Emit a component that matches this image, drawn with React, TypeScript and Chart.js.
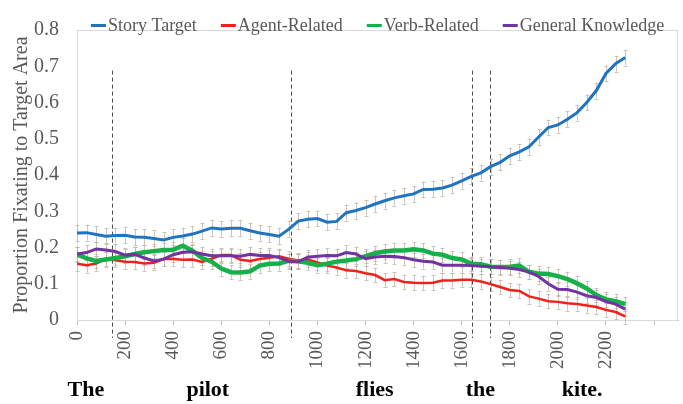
import React, { useEffect, useRef } from 'react';
import { Chart, registerables } from 'chart.js';

Chart.register(...registerables);

// ---- data ----
const TIME_MS = [
  0, 40, 80, 120, 160, 200, 240, 280, 320, 360,
  400, 440, 480, 520, 560, 600, 640, 680, 720, 760,
  800, 840, 880, 920, 960, 1000, 1040, 1080, 1120, 1160,
  1200, 1240, 1280, 1320, 1360, 1400, 1440, 1480, 1520, 1560,
  1600, 1640, 1680, 1720, 1760, 1800, 1840, 1880, 1920, 1960,
  2000, 2040, 2080, 2120, 2160, 2200, 2240, 2280,
];

const STORY_TARGET = [
  0.240, 0.241, 0.236, 0.231, 0.233, 0.234, 0.229, 0.228, 0.225, 0.221,
  0.228, 0.232, 0.237, 0.245, 0.254, 0.251, 0.253, 0.253, 0.246, 0.240,
  0.236, 0.231, 0.250, 0.273, 0.278, 0.280, 0.270, 0.272, 0.296, 0.302,
  0.310, 0.320, 0.329, 0.337, 0.343, 0.348, 0.360, 0.361, 0.364, 0.372,
  0.384, 0.396, 0.406, 0.423, 0.435, 0.453, 0.464, 0.478, 0.505, 0.531,
  0.538, 0.554, 0.572, 0.600, 0.633, 0.680, 0.707, 0.724,
];

const AGENT_RELATED = [
  0.155, 0.151, 0.156, 0.169, 0.165, 0.161, 0.160, 0.156, 0.158, 0.168,
  0.168, 0.166, 0.167, 0.160, 0.169, 0.179, 0.179, 0.166, 0.163, 0.168,
  0.172, 0.176, 0.169, 0.164, 0.167, 0.159, 0.150, 0.145, 0.137, 0.135,
  0.129, 0.124, 0.110, 0.113, 0.105, 0.103, 0.102, 0.103, 0.109, 0.109,
  0.111, 0.111, 0.106, 0.099, 0.091, 0.083, 0.080, 0.065, 0.059, 0.052,
  0.050, 0.046, 0.044, 0.040, 0.036, 0.028, 0.022, 0.010,
];

const VERB_RELATED = [
  0.181, 0.170, 0.163, 0.167, 0.171, 0.176, 0.182, 0.187, 0.190, 0.193,
  0.194, 0.205, 0.191, 0.171, 0.161, 0.142, 0.132, 0.131, 0.134, 0.150,
  0.155, 0.156, 0.163, 0.162, 0.158, 0.151, 0.155, 0.161, 0.164, 0.168,
  0.176, 0.184, 0.189, 0.192, 0.192, 0.195, 0.192, 0.183, 0.180, 0.171,
  0.167, 0.155, 0.154, 0.147, 0.146, 0.147, 0.150, 0.133, 0.128, 0.127,
  0.121, 0.113, 0.101, 0.087, 0.069, 0.057, 0.052, 0.044,
];

const GENERAL_KNOWLEDGE = [
  0.182, 0.186, 0.196, 0.193, 0.189, 0.179, 0.181, 0.171, 0.163, 0.168,
  0.180, 0.187, 0.188, 0.182, 0.177, 0.177, 0.177, 0.176, 0.181, 0.178,
  0.178, 0.172, 0.162, 0.161, 0.173, 0.176, 0.178, 0.177, 0.186, 0.182,
  0.169, 0.174, 0.176, 0.175, 0.172, 0.166, 0.162, 0.160, 0.151, 0.151,
  0.151, 0.150, 0.148, 0.147, 0.145, 0.143, 0.139, 0.132, 0.120, 0.100,
  0.085, 0.084, 0.077, 0.067, 0.062, 0.051, 0.044, 0.030,
];

const SERIES_LABELS = ['Story Target', 'Agent-Related', 'Verb-Related', 'General Knowledge'];
const SERIES_COLORS = ['#1f74c2', '#f0201a', '#15b04a', '#7232a0'];
const SERIES_WIDTHS = [3, 2.5, 4.5, 3];
const ERROR_MARGINS = [0.022, 0.02, 0.02, 0.02];

// word onsets (ms) shown as dashed lines
const WORD_ONSETS_MS = [147, 891, 1644, 1718];
// sentence words and the time they are centred under
const WORDS = ['The', 'pilot', 'flies', 'the', 'kite.'];
const WORD_CENTERS_MS = [37, 544, 1238, 1678, 2101];

const X_TICK_MAX_LABEL = 2200;
const FONT = '"Liberation Serif", "Times New Roman", serif';
const GRAY_TEXT = '#595959';

const framePlugin = {
  id: 'frame',
  beforeDatasetsDraw(chart: any) {
    const { ctx, chartArea: a, scales } = chart;
    ctx.save();
    ctx.strokeStyle = '#d9d9d9';
    ctx.lineWidth = 1;
    ctx.strokeRect(a.left + 0.5, a.top + 0.5, a.right - a.left - 1, a.bottom - a.top);
    // error bars
    chart.data.datasets.forEach((ds: any, di: number) => {
      const meta = chart.getDatasetMeta(di);
      const err = ERROR_MARGINS[di];
      ctx.strokeStyle = 'rgba(195,182,170,0.8)';
      ctx.lineWidth = 1;
      meta.data.forEach((pt: any, i: number) => {
        const v = ds.data[i].y;
        const yTop = scales.y.getPixelForValue(v + err);
        const yBot = scales.y.getPixelForValue(v - err);
        const x = Math.round(pt.x) + 0.5;
        ctx.beginPath();
        ctx.moveTo(x, yTop);
        ctx.lineTo(x, yBot);
        ctx.moveTo(x - 2, Math.round(yTop) + 0.5);
        ctx.lineTo(x + 2, Math.round(yTop) + 0.5);
        ctx.moveTo(x - 2, Math.round(yBot) + 0.5);
        ctx.lineTo(x + 2, Math.round(yBot) + 0.5);
        ctx.stroke();
      });
    });
    // dashed onset lines
    ctx.strokeStyle = '#4a4a4a';
    ctx.setLineDash([4, 3]);
    ctx.lineWidth = 1;
    WORD_ONSETS_MS.forEach((t) => {
      const x = Math.round(scales.x.getPixelForValue(t)) + 0.5;
      ctx.beginPath();
      ctx.moveTo(x, scales.y.getPixelForValue(0.688));
      ctx.lineTo(x, a.bottom + 18);
      ctx.stroke();
    });
    ctx.restore();
  },
  afterDraw(chart: any) {
    const { ctx, chartArea: a, scales } = chart;
    ctx.save();
    // legend
    ctx.font = `18px ${FONT}`;
    const markerW = 15;
    const gapText = 2;
    const gapItem = 24;
    const widths = SERIES_LABELS.map((l) => markerW + gapText + ctx.measureText(l).width);
    const total = widths.reduce((s, w) => s + w, 0) + gapItem * (widths.length - 1);
    let x = (a.left + a.right) / 2 - total / 2;
    const yText = 31;
    SERIES_LABELS.forEach((l, i) => {
      ctx.strokeStyle = SERIES_COLORS[i];
      ctx.lineWidth = 3;
      ctx.beginPath();
      ctx.moveTo(x, 25.5);
      ctx.lineTo(x + markerW, 25.5);
      ctx.stroke();
      ctx.fillStyle = GRAY_TEXT;
      ctx.textAlign = 'left';
      ctx.textBaseline = 'alphabetic';
      ctx.fillText(l, x + markerW + gapText, yText);
      x += widths[i] + gapItem;
    });
    // sentence words
    ctx.font = `bold 22px ${FONT}`;
    ctx.fillStyle = '#000000';
    ctx.textAlign = 'center';
    WORDS.forEach((w, i) => {
      ctx.fillText(w, scales.x.getPixelForValue(WORD_CENTERS_MS[i]), 396);
    });
    ctx.restore();
  },
};

export default function App() {
  const canvasRef = useRef<HTMLCanvasElement | null>(null);

  useEffect(() => {
    const seriesValues = [STORY_TARGET, AGENT_RELATED, VERB_RELATED, GENERAL_KNOWLEDGE];
    const orders = [3, 2, 1, 0];
    const chart = new Chart(canvasRef.current as HTMLCanvasElement, {
      type: 'line',
      data: {
        datasets: seriesValues.map((vals, i) => ({
          label: SERIES_LABELS[i],
          data: vals.map((v, j) => ({ x: TIME_MS[j], y: v })),
          borderColor: SERIES_COLORS[i],
          backgroundColor: SERIES_COLORS[i],
          borderWidth: SERIES_WIDTHS[i],
          pointRadius: 0,
          tension: 0,
          fill: false,
          order: orders[i],
        })),
      },
      options: {
        responsive: false,
        animation: false,
        devicePixelRatio: 1,
        layout: { padding: { top: 14, right: 4, left: 0, bottom: 0 } },
        plugins: {
          legend: { display: false },
          tooltip: { enabled: false },
        },
        scales: {
          x: {
            type: 'linear',
            min: 0,
            max: 2500,
            afterFit: (s: any) => { s.height = 84; },
            grid: {
              display: true,
              drawOnChartArea: false,
              drawTicks: true,
              tickLength: 5,
              color: '#bfbfbf',
            },
            border: { display: true, color: '#bfbfbf' },
            ticks: {
              stepSize: 200,
              includeBounds: false,
              autoSkip: false,
              minRotation: 90,
              maxRotation: 90,
              padding: 6,
              color: GRAY_TEXT,
              font: { family: FONT, size: 19 },
              callback: (v: any) => (Number(v) <= X_TICK_MAX_LABEL ? String(v) : ''),
            },
          },
          y: {
            min: 0,
            max: 0.8,
            afterFit: (s: any) => { s.width = 77; },
            grid: { display: false, drawTicks: false },
            border: { display: false },
            ticks: {
              stepSize: 0.1,
              padding: 18,
              color: GRAY_TEXT,
              font: { family: FONT, size: 20 },
              callback: (v: any) => (Number(v) === 0 ? '0' : Number(v).toFixed(1)),
            },
            title: {
              display: true,
              text: 'Proportion Fixating to Target Area',
              color: GRAY_TEXT,
              font: { family: FONT, size: 20 },
              padding: { top: 10, bottom: 0 },
            },
          },
        },
      },
      plugins: [framePlugin],
    } as any);
    return () => chart.destroy();
  }, []);

  return (
    <div style={{ position: 'fixed', left: 0, top: 0, width: 683, height: 404, background: '#fff' }}>
      <canvas ref={canvasRef} width={683} height={404} style={{ display: 'block' }} />
    </div>
  );
}
